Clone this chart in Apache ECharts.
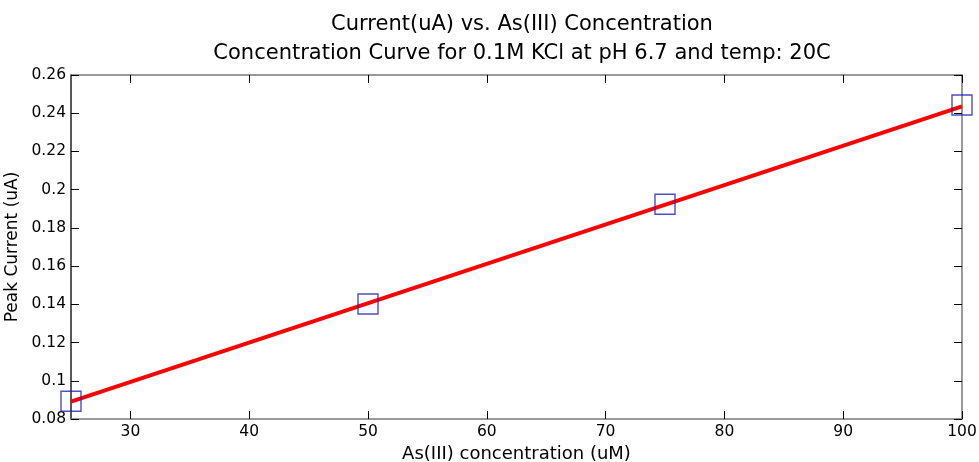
<!DOCTYPE html>
<html>
<head>
<meta charset="utf-8">
<script src="https://cdn.jsdelivr.net/npm/echarts@6/dist/echarts.min.js"></script>
<style>
html,body{margin:0;padding:0;background:#fff;}
#chart{width:979px;height:462px;}
</style>
</head>
<body>
<div id="chart"></div>
<script>
// measured points
var concX = [25, 50, 75, 100];
var currentY = [0.0893, 0.1402, 0.1924, 0.2443];
// linear fit endpoints
var fitX = [25, 100];
var fitY = [0.0891, 0.2436];
var xTicks = [30, 40, 50, 60, 70, 80, 90, 100];

var ptData = [];
for (var i = 0; i < concX.length; i++) ptData.push([concX[i], currentY[i]]);
var fitData = [];
for (var j = 0; j < fitX.length; j++) fitData.push([fitX[j], fitY[j]]);

var font = 'DejaVu Sans, sans-serif';
var axisCol = '#777';

var chart = echarts.init(document.getElementById('chart'));
var option = {
	animation: false,
	backgroundColor: '#fff',
	title: {
		text: 'Current(uA) vs. As(III) Concentration\nConcentration Curve for 0.1M KCl at pH 6.7 and temp: 20C',
		left: 517,
		textAlign: 'center',
		top: 5,
		textStyle: {fontFamily: font, fontSize: 21, fontWeight: 'normal', color: '#000', lineHeight: 29}
	},
	grid: {left: 71, right: 17, top: 75, bottom: 43, outerBoundsMode: 'none'},
	xAxis: [{
		type: 'value', min: 25, max: 100, interval: 5,
		name: 'As(III) concentration (uM)', nameLocation: 'middle', nameGap: 23,
		nameTextStyle: {fontFamily: font, fontSize: 18, color: '#000'},
		axisLine: {lineStyle: {color: axisCol, width: 1.5}},
		axisTick: {inside: true, length: 8, lineStyle: {color: '#000'}, customValues: xTicks},
		axisLabel: {fontFamily: font, fontSize: 15.5, color: '#000', margin: 5, customValues: xTicks},
		splitLine: {show: false}
	}, {
		type: 'value', min: 25, max: 100, position: 'top',
		axisLine: {show: true, onZero: false, lineStyle: {color: axisCol, width: 1.5}},
		axisTick: {inside: true, length: 8, lineStyle: {color: '#000'}, customValues: xTicks},
		axisLabel: {show: false}, splitLine: {show: false}
	}],
	yAxis: [{
		type: 'value', min: 0.08, max: 0.26, interval: 0.02,
		name: 'Peak Current (uA)', nameLocation: 'middle', nameGap: 44,
		nameTextStyle: {fontFamily: font, fontSize: 17, color: '#000'},
		axisLine: {show: true, lineStyle: {color: '#222', width: 1.5}},
		axisTick: {inside: true, length: 8, lineStyle: {color: '#000'}},
		axisLabel: {fontFamily: font, fontSize: 15.5, color: '#000', margin: 5,
			formatter: function (v) { return String(Math.round(v * 100) / 100); }},
		splitLine: {show: false}
	}, {
		type: 'value', min: 0.08, max: 0.26, interval: 0.02, position: 'right',
		axisLine: {show: true, onZero: false, lineStyle: {color: axisCol, width: 1.5}},
		axisTick: {inside: true, length: 8, lineStyle: {color: '#000'}},
		axisLabel: {show: false}, splitLine: {show: false}
	}],
	series: [{
		type: 'line',
		data: fitData,
		showSymbol: false,
		lineStyle: {color: '#ff0000', width: 4},
		z: 2
	}, {
		type: 'scatter',
		data: ptData,
		symbol: 'rect',
		symbolSize: 20,
		itemStyle: {color: 'rgba(0,0,0,0)', borderColor: '#2020b8', borderWidth: 1.4},
		z: 3
	}]
};
chart.setOption(option);
</script>
</body>
</html>
